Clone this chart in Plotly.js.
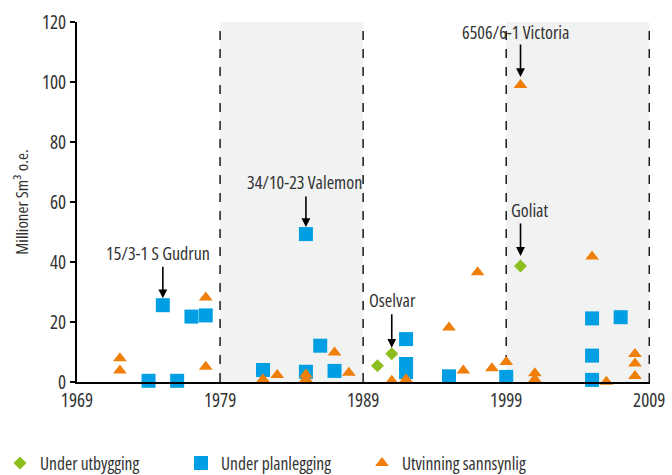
<!DOCTYPE html>
<html>
<head>
<meta charset="utf-8">
<script src="https://cdn.plot.ly/plotly-3.0.1.min.js"></script>
<style>
html,body{margin:0;padding:0;background:#fff;}
#chart{width:672px;height:475px;}
svg text{font-stretch:75% !important;}
</style>
</head>
<body>
<div id="chart"></div>
<script>
// ---- Data ----
var utbyggingYear = [1990, 1991, 2000];
var utbyggingValue = [5.4, 9.4, 38.7];

var planleggingYear = [1974, 1975, 1976, 1977, 1978, 1982, 1985, 1985, 1986, 1987, 1992, 1992, 1992, 1995, 1999, 2005, 2005, 2005, 2007];
var planleggingValue = [0.4, 25.6, 0.4, 21.8, 22.2, 4.0, 49.3, 3.4, 12.1, 3.7, 14.3, 6.0, 3.3, 1.9, 1.7, 21.2, 8.8, 0.7, 21.6];

var sannsynligYear = [1972, 1972, 1978, 1978, 1982, 1983, 1985, 1985, 1987, 1988, 1991, 1992, 1995, 1996, 1997, 1998, 1999, 2000, 2001, 2001, 2005, 2006, 2008, 2008, 2008];
var sannsynligValue = [7.9, 3.8, 28.2, 5.1, 0.9, 2.3, 2.5, 1.0, 9.8, 3.1, 0.4, 0.9, 18.2, 3.8, 36.6, 4.6, 6.7, 99.0, 2.9, 0.9, 41.8, 0.1, 9.3, 6.2, 2.0];

var seriesNames = ["Under utbygging", "Under planlegging", "Utvinning sannsynlig"];

var labelTexts = ["15/3-1 S Gudrun", "34/10-23 Valemon", "Oselvar", "6506/6-1 Victoria", "Goliat"];
var labelYears = [1975, 1985, 1991, 2000, 2000];
var labelValues = [25.6, 49.3, 9.4, 99.0, 38.7];

var xTicks = [1969, 1979, 1989, 1999, 2009];
var yTicks = [0, 20, 40, 60, 80, 100, 120];
var shadedPeriods = [[1979, 1989], [1999, 2009]];

// ---- Styles ----
var FONT = "Open Sans, DejaVu Sans Condensed, sans-serif";
var TXT = "#333333";
var GREEN = "#8cbf1e", BLUE = "#009fe3", ORANGE = "#f07f09";

var traces = [
  {x: utbyggingYear, y: utbyggingValue, name: seriesNames[0], type: "scatter", mode: "markers", cliponaxis: false,
   marker: {symbol: "diamond", size: 10, color: GREEN}},
  {x: planleggingYear, y: planleggingValue, name: seriesNames[1], type: "scatter", mode: "markers", cliponaxis: false,
   marker: {symbol: "square", size: 14, color: BLUE}},
  {x: sannsynligYear, y: sannsynligValue, name: seriesNames[2], type: "scatter", mode: "markers", cliponaxis: false,
   marker: {symbol: "triangle-up", size: 12, color: ORANGE}}
];

var shapes = [];
shadedPeriods.forEach(function (p) {
  shapes.push({type: "rect", xref: "x", yref: "y", x0: p[0], x1: p[1], y0: 0, y1: 120,
    fillcolor: "#f1f2f2", line: {width: 0}, layer: "below"});
});
xTicks.slice(1).forEach(function (t) {
  shapes.push({type: "line", xref: "x", yref: "y", x0: t, x1: t, y0: 0, y1: 120,
    line: {color: "#1a1a1a", width: 1.5, dash: "dash"}, layer: "below"});
});

var arrowOpts = [
  {ay: -40, standoff: 7, xs: -5, ys: 52},
  {ay: -39, standoff: 7, xs: -1, ys: 52},
  {ay: -41, standoff: 6, xs: 1, ys: 54},
  {ay: -42, standoff: 8, xs: -5, ys: 53},
  {ay: -44, standoff: 10, xs: 9, ys: 56}
];
var annotations = [];
labelTexts.forEach(function (t, i) {
  var o = arrowOpts[i];
  annotations.push({x: labelYears[i], y: labelValues[i], xref: "x", yref: "y", text: "",
    showarrow: true, ax: 0, ay: o.ay, axref: "pixel", ayref: "pixel",
    arrowhead: 2, arrowsize: 1.1, arrowwidth: 1.6, arrowcolor: "#000", standoff: o.standoff});
  annotations.push({x: labelYears[i], y: labelValues[i], xref: "x", yref: "y", text: t,
    showarrow: false, xshift: o.xs, yshift: o.ys, xanchor: "center", yanchor: "middle",
    font: {family: FONT, size: 18, color: TXT}});
});

var layout = {
  width: 672, height: 475,
  margin: {l: 77, r: 22, t: 22, b: 93, autoexpand: false},
  paper_bgcolor: "#fff", plot_bgcolor: "#fff",
  font: {family: FONT, size: 18, color: TXT},
  showlegend: true,
  legend: {orientation: "h", xref: "container", yref: "container", x: 0, xanchor: "left", y: 0.025, yanchor: "middle",
    entrywidth: 136, entrywidthmode: "pixels", itemwidth: 30,
    font: {family: FONT, size: 17.5, color: TXT}},
  xaxis: {range: [1969, 2009.05], tickvals: xTicks, ticktext: xTicks.map(String), showgrid: false, zeroline: false,
    showline: true, linecolor: "#000", linewidth: 2, ticks: "", tickfont: {size: 19, color: TXT}, fixedrange: true},
  yaxis: {range: [0, 120], tickvals: yTicks, showgrid: false, zeroline: false,
    showline: true, linecolor: "#000", linewidth: 2, ticks: "outside", ticklen: 5, tickwidth: 2, tickcolor: "#000",
    tickfont: {size: 19, color: TXT}, fixedrange: true,
    title: {text: "Millioner Sm³ o.e.", font: {size: 17, color: TXT}, standoff: 9}},
  shapes: shapes,
  annotations: annotations
};

Plotly.newPlot("chart", traces, layout, {displayModeBar: false, staticPlot: true});
</script>
</body>
</html>
